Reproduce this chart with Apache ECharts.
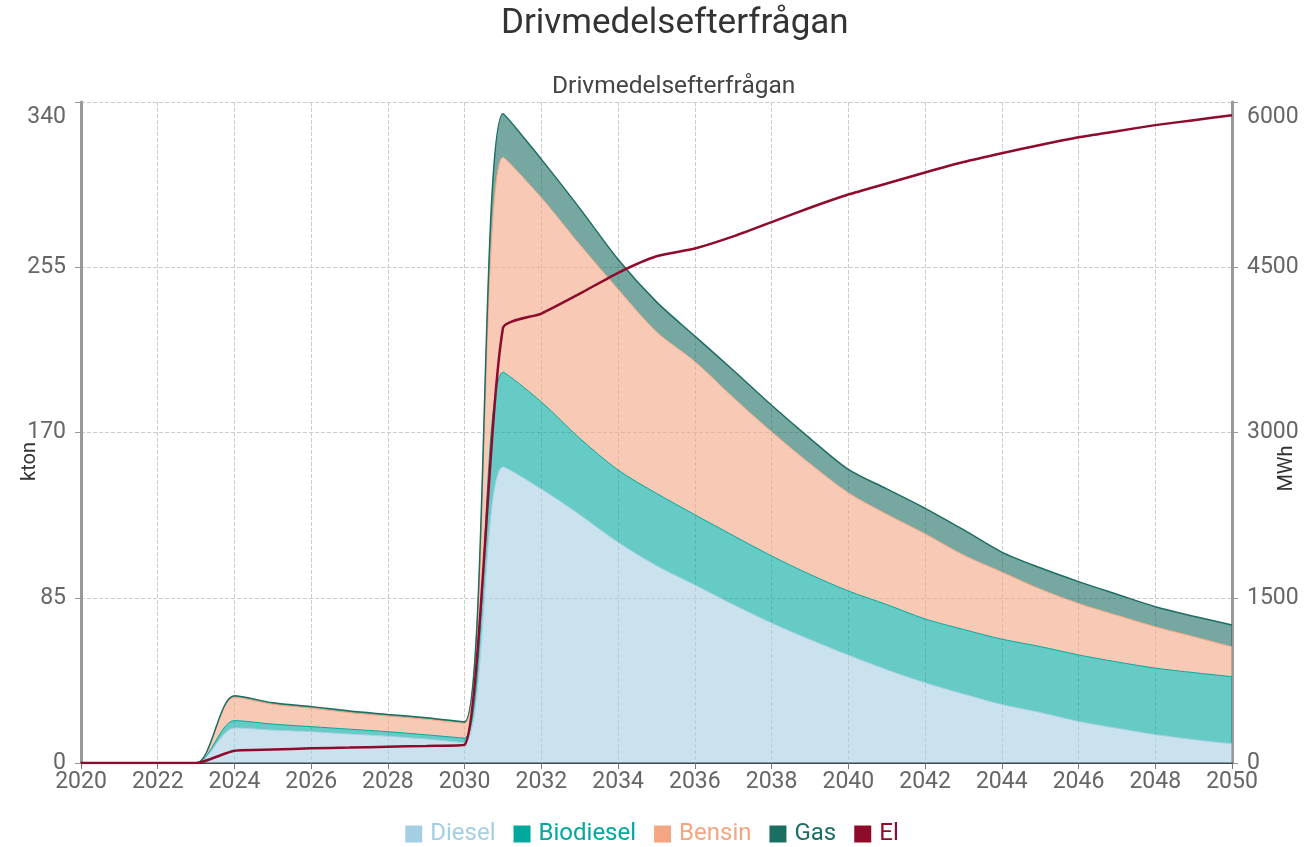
<!DOCTYPE html>
<html>
<head>
<meta charset="utf-8">
<title>Drivmedelsefterfrågan</title>
<script src="https://cdn.jsdelivr.net/npm/echarts@6/dist/echarts.min.js"></script>
<style>
  html, body { margin: 0; padding: 0; background: #fff; }
  #ech { width: 1304px; height: 847px; }
</style>
</head>
<body>
<div id="ech"></div>
<script>
var years = [];
for (var y = 2020; y <= 2050; y++) years.push(String(y));

// kton
var diesel = [0, 0, 0, 0, 18, 16.9, 16.1, 14.9, 13.8, 12.3, 10.5,
  152.3, 140.9, 127.7, 113.5, 101.5, 91.6, 81.5, 72, 63.5, 55.5,
  48, 41.3, 35.5, 30.1, 26, 21.4, 17.9, 14.6, 12, 9.9];
var biodiesel = [0, 0, 0, 0, 3.8, 3.1, 2.6, 2.5, 2.3, 2.2, 2.3,
  48.7, 44.8, 39.3, 37.2, 37.2, 36.1, 35.5, 34.5, 33.5, 33,
  33.5, 32.8, 33.2, 33.6, 33.9, 34.2, 34.1, 34.2, 34.5, 34.5];
var bensin = [0, 0, 0, 0, 12, 10.2, 9.5, 8.5, 8.1, 8, 7.6,
  110.6, 105.1, 99.7, 93, 83.1, 78.8, 71, 63.9, 57, 50.5,
  46.5, 43.8, 38.3, 34.6, 29.6, 26.5, 24, 21.3, 18.5, 15.4];
var gas = [0, 0, 0, 0, 0.8, 0.8, 0.8, 0.8, 0.8, 0.8, 0.8,
  22.4, 19.7, 18.6, 15.3, 15.4, 13.1, 14, 13.6, 13, 12,
  13, 13.1, 13, 10.2, 10.9, 11.2, 10.8, 10.3, 10.5, 11.2];
// MWh
var el = [0, 0, 0, 0, 112, 122, 133, 140, 148, 155, 165,
  3950, 4080, 4260, 4450, 4600, 4670, 4780, 4910, 5040, 5160,
  5260, 5360, 5455, 5535, 5610, 5680, 5735, 5790, 5835, 5880];

var colors = {
  Diesel: '#a6cee3',
  Biodiesel: '#00a89d',
  Bensin: '#f4a582',
  Gas: '#1b6e62',
  El: '#8e0b2b'
};

function areaSeries(name, data, lineWidth) {
  return {
    name: name,
    type: 'line',
    stack: 'kton',
    smooth: 0.3,
    showSymbol: false,
    data: data,
    lineStyle: { width: lineWidth, color: colors[name] },
    itemStyle: { color: colors[name] },
    areaStyle: { color: colors[name], opacity: 0.6 }
  };
}

// top label sits a bit under the top tick
function yLabel(max) {
  return function (v) {
    return v === max ? '{mx|' + v + '}' : String(v);
  };
}
var labelRich = { mx: { fontSize: 23, color: '#666', padding: [4, 0, 0, 0] } };

var myChart = echarts.init(document.getElementById('ech'));
var font = 'Roboto, sans-serif';

var option = {
  textStyle: { fontFamily: font },
  animation: false,
  title: [{
    text: 'Drivmedelsefterfrågan',
    left: 496,
    top: 2,
    textStyle: { fontSize: 35, fontWeight: 'normal', color: '#333', fontFamily: font }
  }, {
    text: 'Drivmedelsefterfrågan',
    left: 547,
    top: 69,
    textStyle: { fontSize: 24.5, fontWeight: 'normal', color: '#444', fontFamily: font }
  }],
  legend: {
    bottom: -4,
    left: 'center',
    icon: 'rect',
    itemWidth: 17,
    itemHeight: 17,
    itemGap: 18,
    textStyle: { fontSize: 24, fontFamily: font, padding: [0, 0, 0, 3] },
    data: ['Diesel', 'Biodiesel', 'Bensin', 'Gas', 'El'].map(function (n) {
      return { name: n, textStyle: { color: colors[n] } };
    })
  },
  grid: { left: 81, right: 72, top: 102, bottom: 84, outerBoundsMode: 'none' },
  xAxis: {
    type: 'category',
    data: years,
    boundaryGap: false,
    axisLine: { lineStyle: { color: '#444', width: 2 } },
    axisTick: { interval: 1, length: 6, lineStyle: { color: '#777' } },
    axisLabel: { interval: 1, fontSize: 23, color: '#666', margin: 8 },
    splitLine: { show: true, interval: 1, lineStyle: { type: 'dashed', color: '#ccc' } }
  },
  yAxis: [{
    type: 'value',
    name: 'kton',
    nameLocation: 'middle',
    nameGap: 41,
    nameMoveOverlap: false,
    nameTextStyle: { fontSize: 20, color: '#333', padding: [0, 58, 0, 0] },
    min: 0,
    max: 340,
    interval: 85,
    axisLine: { show: true, lineStyle: { color: '#999', width: 3 } },
    axisTick: { show: true, length: 6, lineStyle: { color: '#999' } },
    axisLabel: {
      fontSize: 23, color: '#666', margin: 15, verticalAlignMaxLabel: 'top',
      formatter: yLabel(340), rich: labelRich
    },
    splitLine: { lineStyle: { type: 'dashed', color: '#ccc' } }
  }, {
    type: 'value',
    name: 'MWh',
    nameLocation: 'middle',
    nameGap: 45,
    nameMoveOverlap: false,
    nameTextStyle: { fontSize: 20, color: '#333', padding: [0, 72, 0, 0] },
    min: 0,
    max: 6000,
    interval: 1500,
    axisLine: { show: true, lineStyle: { color: '#999', width: 3 } },
    axisTick: { show: true, length: 6, lineStyle: { color: '#999' } },
    axisLabel: {
      fontSize: 23, color: '#666', margin: 15, verticalAlignMaxLabel: 'top',
      formatter: yLabel(6000), rich: labelRich
    },
    splitLine: { show: false }
  }],
  series: [
    areaSeries('Diesel', diesel, 1),
    areaSeries('Biodiesel', biodiesel, 1),
    areaSeries('Bensin', bensin, 1),
    areaSeries('Gas', gas, 1.5),
    {
      name: 'El',
      type: 'line',
      yAxisIndex: 1,
      smooth: 0.2,
      showSymbol: false,
      data: el,
      z: 5,
      lineStyle: { width: 2.5, color: colors.El },
      itemStyle: { color: colors.El }
    }
  ]
};

myChart.setOption(option);
</script>
</body>
</html>
